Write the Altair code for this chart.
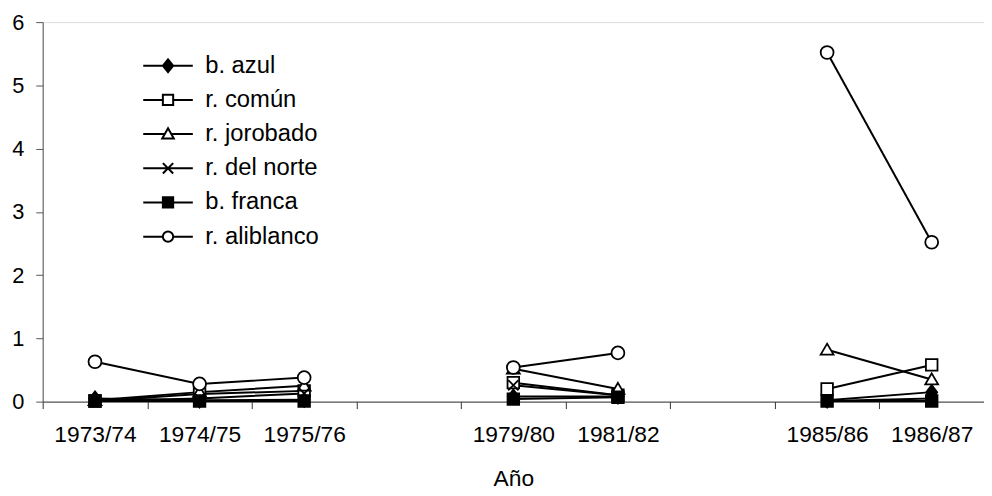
import altair as alt
import pandas as pd

# ---- datos ----
anios = ['1973/74', '1974/75', '1975/76', '1979/80', '1981/82', '1985/86', '1986/87']
tramos = [1, 1, 1, 2, 2, 3, 3]
categorias_eje = ['1973/74', '1974/75', '1975/76', ' ', '1979/80', '1981/82', '  ', '1985/86', '1986/87']
series = ['b. azul', 'r. común', 'r. jorobado', 'r. del norte', 'b. franca', 'r. aliblanco']

b_azul = [0.05, 0.02, 0.03, 0.08, 0.08, 0.02, 0.15]
r_comun = [0.01, 0.12, 0.17, 0.30, 0.10, 0.20, 0.58]
r_jorobado = [0.02, 0.15, 0.25, 0.52, 0.20, 0.82, 0.35]
r_del_norte = [0.01, 0.05, 0.13, 0.26, 0.10, 0.01, 0.05]
b_franca = [0.01, 0.01, 0.01, 0.04, 0.07, 0.01, 0.01]
r_aliblanco = [0.63, 0.28, 0.38, 0.54, 0.77, 5.52, 2.52]
valores = [b_azul, r_comun, r_jorobado, r_del_norte, b_franca, r_aliblanco]

y_ticks = [0, 1, 2, 3, 4, 5, 6]

rows = []
for s, vals in zip(series, valores):
    for a, t, v in zip(anios, tramos, vals):
        rows.append({'serie': s, 'anio': a, 'tramo': t, 'valor': v})
df = pd.DataFrame(rows)

# ---- estilos ----
FONT = 'Liberation Sans'
formas_plot = [
    'M0,-1.1L0.85,0L0,1.1L-0.85,0Z',
    'M-0.9,-0.9H0.9V0.9H-0.9Z',
    'M0,-0.95L1,0.75H-1Z',
    'M-0.8,-0.8L0.8,0.8M-0.8,0.8L0.8,-0.8',
    'M-0.9,-0.9H0.9V0.9H-0.9Z',
    'circle',
]
formas_leyenda = [
    'M-3.85,0H3.85M0,-1L0.8,0L0,1L-0.8,0Z',
    'M-3.85,0H-0.8M0.8,0H3.85M-0.8,-0.8H0.8V0.8H-0.8Z',
    'M-3.85,0H-0.5M0.5,0H3.85M-0.9,0.7L0,-0.9L0.9,0.7Z',
    'M-3.85,0H3.85M-0.8,-0.8L0.8,0.8M-0.8,0.8L0.8,-0.8',
    'M-3.85,0H3.85M-0.8,-0.8H0.8V0.8H-0.8Z',
    'M-3.85,0H-0.8M0.8,0H3.85M-0.8,0A0.8,0.8 0 1,0 0.8,0A0.8,0.8 0 1,0 -0.8,0Z',
]
rellenos = ['black', 'white', 'white', 'white', 'black', 'white']
trazos = ['black'] * 6

x_enc = alt.X(
    'anio:N',
    scale=alt.Scale(type='band', domain=categorias_eje, paddingInner=0, paddingOuter=0),
    axis=alt.Axis(
        title='Año', tickBand='extent', labelAngle=0, tickSize=7, labelPadding=15,
        labelFontSize=23, labelFont=FONT, labelColor='black',
        titleFontSize=23, titleFont=FONT, titleFontWeight='normal', titleColor='black',
        titlePadding=22, domainColor='#333', tickColor='#333', grid=False,
    ),
)
y_enc = alt.Y(
    'valor:Q',
    scale=alt.Scale(domain=[0, 6], nice=False),
    axis=alt.Axis(
        title=None, values=y_ticks, tickSize=7, labelPadding=12, labelFontSize=22,
        labelFont=FONT, labelColor='black', domainColor='#555', tickColor='#555', grid=False,
    ),
)

lineas = alt.Chart(df).mark_line(color='black', strokeWidth=2).encode(
    x=x_enc, y=y_enc, detail=['serie:N', 'tramo:N']
)

puntos = alt.Chart(df).mark_point(filled=True, stroke='black', strokeWidth=1.8, size=169, opacity=1).encode(
    x=x_enc, y=y_enc,
    shape=alt.Shape('serie:N', scale=alt.Scale(domain=series, range=formas_plot), legend=None),
    fill=alt.Fill('serie:N', scale=alt.Scale(domain=series, range=rellenos), legend=None),
)

leg = alt.Legend(
    title=None, orient='none', legendX=114.5, legendY=32, padding=0,
    labelFontSize=24, labelFont=FONT, labelColor='black', labelOffset=25.5, labelLimit=300,
    symbolSize=169, symbolStrokeWidth=2, symbolStrokeColor='black', symbolOpacity=1,
    rowPadding=10.5,
)
leyenda = alt.Chart(df).mark_point(filled=True, strokeWidth=2, size=169, opacity=0).encode(
    x=x_enc, y=y_enc,
    shape=alt.Shape('serie:N', scale=alt.Scale(domain=series, range=formas_leyenda), legend=leg),
    fill=alt.Fill('serie:N', scale=alt.Scale(domain=series, range=rellenos), legend=leg),
    stroke=alt.Stroke('serie:N', scale=alt.Scale(domain=series, range=trazos), legend=leg),
)

chart = alt.layer(lineas, puntos, leyenda).resolve_scale(
    shape='independent', fill='independent', stroke='independent'
).properties(
    width=950, height=383,
    autosize=alt.AutoSizeParams(type='none'),
    padding={'left': 35, 'top': 12, 'right': 0, 'bottom': 93},
).configure_view(strokeWidth=0).configure(font=FONT, background='white')

chart.save('out.html', embed_options={'renderer': 'svg', 'actions': False})
